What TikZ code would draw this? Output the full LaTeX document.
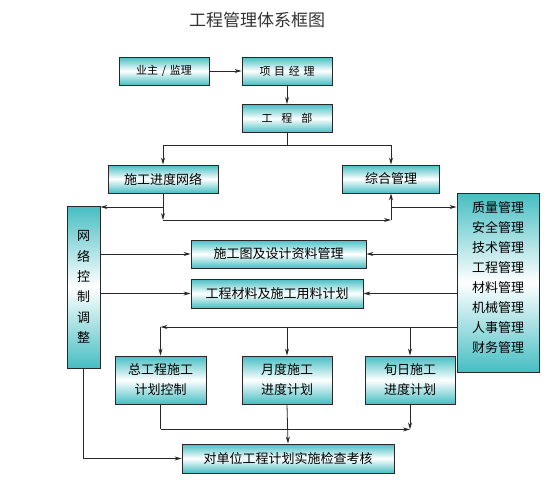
\documentclass[tikz,border=0pt]{standalone}
\usepackage{fontspec}
\setmainfont{Noto Sans CJK SC}
\usepackage{tikz}
\usetikzlibrary{arrows.meta, positioning, calc}

\definecolor{boxteal}{RGB}{70,190,195}
\definecolor{lineink}{RGB}{40,40,40}

\begin{document}
\begin{tikzpicture}[
    x=1pt, y=-1pt,
    box/.style={rectangle, draw=lineink, line width=0.9pt, top color=boxteal, bottom color=boxteal, middle color=white, inner sep=0pt, font=\fontsize{13}{16}\selectfont, align=center},
    topbox/.style={box, minimum width=90pt, minimum height=28pt, font=\fontsize{11}{13}\selectfont},
    midbox/.style={box, minimum height=28pt},
    lowbox/.style={box, minimum width=91pt, minimum height=48pt, font=\fontsize{13}{20}\selectfont},
    arr/.style={-{Stealth[length=7pt, width=4pt]}, line width=0.8pt, lineink},
    ln/.style={line width=0.8pt, lineink}
]
\useasboundingbox[fill=white] (0,0) rectangle (560,482);

% Title
\node[font=\fontsize{17}{20}\selectfont, text=black!80] (title) at (257,20) {工程管理体系框图};

% Top chain
\node[topbox] (yzjl) at (164,71) {业主\,\,/\,\,监理};
\node[topbox] (xmjl) at (287,71) {项\,\,目\,\,经\,\,理};
\node[topbox] (gcb) at (287,118.5) {工\hspace{9pt}程\hspace{9pt}部};

% Second level
\node[midbox, minimum width=110pt] (sgjd) at (163,179) {施工进度网络};
\node[midbox, minimum width=97pt] (zhgl) at (391,179) {综合管理};

% Side boxes
\node[box, minimum width=33pt, minimum height=162pt, font=\fontsize{13}{20.4}\selectfont] (wlkz) at (83.5,287) {网\\络\\控\\制\\调\\整};
\node[box, minimum width=82pt, minimum height=179pt, font=\fontsize{13}{20}\selectfont, align=left] (glxl) at (498,282.5)
    {质量管理\\安全管理\\技术管理\\工程管理\\材料管理\\机械管理\\人事管理\\财务管理\\[-10pt]};

% Middle boxes
\node[midbox, minimum width=175pt] (sgtz) at (278.5,254) {施工图及设计资料管理};
\node[midbox, minimum width=172pt, minimum height=29pt] (gccl) at (277,293.5) {工程材料及施工用料计划};

% Plan boxes
\node[lowbox] (zgc) at (160.5,380) {总工程施工\\计划控制};
\node[lowbox, minimum width=90pt] (ydsg) at (287,380) {月度施工\\进度计划};
\node[lowbox, minimum width=90pt] (xrsg) at (410,380) {旬日施工\\进度计划};

% Bottom box
\node[midbox, minimum width=212pt, minimum height=29pt] (jchk) at (288,458.5) {对单位工程计划实施检查考核};

% Top connectors
\draw[arr] (yzjl) -- (xmjl);
\draw[arr] (xmjl) -- (gcb);
\draw[ln] (gcb.south) -- ++(0,12) coordinate (fork);
\draw[arr] (fork) -| (sgjd.north);
\draw[arr] (fork) -| (zhgl.north);

% Network feedback loop
\coordinate (p1) at (sgjd.south |- 0,207);
\draw[ln] (sgjd.south) -- (p1);
\draw[arr] (p1) -- (wlkz.east |- p1);
\draw[arr] (p1) -- ++(0,13) coordinate (p2);
\draw[arr] (p2) -- (zhgl.south |- p2) coordinate (p3);
\draw[arr] (p3) -- (zhgl.south);
\draw[arr] (zhgl.south |- p1) -- (glxl.west |- p1);

% Middle boxes fed from both sides
\draw[arr] (wlkz.east |- sgtz) -- (sgtz.west);
\draw[arr] (glxl.west |- sgtz) -- (sgtz.east);
\draw[arr] (wlkz.east |- gccl) -- (gccl.west);
\draw[arr] (glxl.west |- gccl) -- (gccl.east);

% Plan row
\coordinate (q) at (glxl.west |- 0,327);
\draw[arr] (q) -- (zgc.north |- q);
\draw[arr] (zgc.north |- q) -- (zgc.north);
\draw[arr] (ydsg.north |- q) -- (ydsg.north);
\draw[arr] (xrsg.north |- q) -- (xrsg.north);

% Check and assessment
\draw[ln] (zgc.south) -- ++(0,25) coordinate (r);
\draw[arr] (r) -- (xrsg.south |- r);
\draw[arr] (xrsg.south) -- (xrsg.south |- r);
\draw[arr] (ydsg.south) -- (jchk.north);
\draw[arr] (wlkz.south) |- (jchk.west);

\end{tikzpicture}
\end{document}
